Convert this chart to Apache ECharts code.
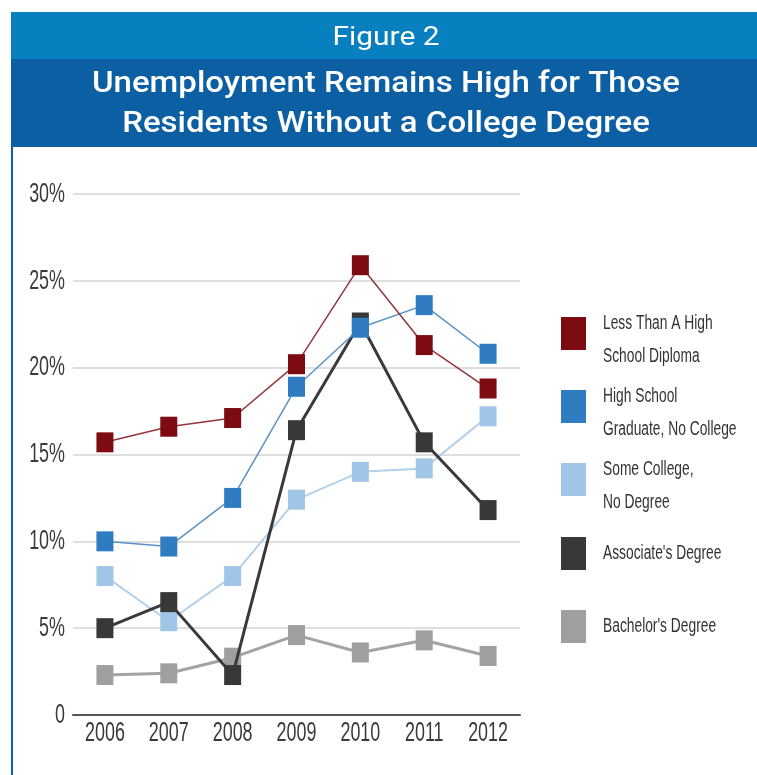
<!DOCTYPE html>
<html>
<head>
<meta charset="utf-8">
<style>
  html, body { margin: 0; padding: 0; background: #ffffff; }
  #chart { width: 757px; height: 775px; }
</style>
<script src="https://cdn.jsdelivr.net/npm/echarts@6/dist/echarts.min.js"></script>
</head>
<body>
<div id="chart"></div>
<script>
// Unemployment rate by educational attainment, 2006-2012 (percent)
const years = ['2006', '2007', '2008', '2009', '2010', '2011', '2012'];
const lessThanHighSchool = [15.7, 16.6, 17.1, 20.2, 25.9, 21.3, 18.8];
const highSchoolGraduate = [10.0, 9.7, 12.5, 18.9, 22.3, 23.6, 20.8];
const someCollege = [8.0, 5.4, 8.0, 12.4, 14.0, 14.2, 17.2];
const associatesDegree = [5.0, 6.5, 2.3, 16.4, 22.6, 15.7, 11.8];
const bachelorsDegree = [2.3, 2.4, 3.3, 4.6, 3.6, 4.3, 3.4];
const yTicks = [0, 5, 10, 15, 20, 25, 30];

const seriesNames = [
  'Less Than A High School Diploma',
  'High School Graduate, No College',
  'Some College, No Degree',
  "Associate's Degree",
  "Bachelor's Degree"
];
// how each legend entry wraps
const legendLines = [
  ['Less Than A High', 'School Diploma'],
  ['High School', 'Graduate, No College'],
  ['Some College,', 'No Degree'],
  ["Associate's Degree"],
  ["Bachelor's Degree"]
];
const markerColors = ['#7d0c12', '#2f7cc0', '#a0c5e6', '#383838', '#9f9f9f'];

const sans = "'Liberation Sans', Arial, sans-serif";
const titleFont = "Roboto, 'Open Sans', sans-serif";
const textColor = '#3a3a3a';

const chart = echarts.init(document.getElementById('chart'), null, { renderer: 'canvas' });

function lineSeries(idx, data, lineColor, lineWidth, z) {
  return {
    name: seriesNames[idx],
    type: 'line',
    data: data,
    z: z,
    symbol: 'rect',
    symbolSize: [17, 20],
    showAllSymbol: true,
    lineStyle: { color: lineColor, width: lineWidth },
    itemStyle: { color: markerColors[idx], borderWidth: 0 },
    emphasis: { disabled: true },
    animation: false
  };
}

// condensed-looking text: a regular face squeezed horizontally
function squeezedText(text, x, y, size, scaleX, align, color, weight) {
  return {
    type: 'text',
    x: x,
    y: y,
    scaleX: scaleX,
    silent: true,
    style: {
      text: text,
      fill: color,
      font: (weight || 'normal') + ' ' + size + 'px ' + sans,
      textAlign: align,
      textVerticalAlign: 'middle'
    }
  };
}

const headerGraphics = [
  { type: 'rect', shape: { x: 11, y: 12, width: 746, height: 47 }, style: { fill: '#0880c0' }, silent: true },
  { type: 'rect', shape: { x: 11, y: 59, width: 746, height: 88 }, style: { fill: '#0d5fa4' }, silent: true },
  { type: 'rect', shape: { x: 11, y: 147, width: 2, height: 628 }, style: { fill: '#0d5fa4' }, silent: true },
  {
    type: 'text', x: 386, y: 38, scaleX: 1.15, silent: true,
    style: { text: 'Figure 2', fill: '#ffffff', font: '400 26px ' + titleFont, textAlign: 'center', textVerticalAlign: 'middle' }
  },
  {
    type: 'text', x: 386, y: 84, scaleX: 1.1, silent: true,
    style: { text: 'Unemployment Remains High for Those', fill: '#ffffff', font: '500 30px ' + titleFont, textAlign: 'center', textVerticalAlign: 'middle' }
  },
  {
    type: 'text', x: 386, y: 124, scaleX: 1.1, silent: true,
    style: { text: 'Residents Without a College Degree', fill: '#ffffff', font: '500 30px ' + titleFont, textAlign: 'center', textVerticalAlign: 'middle' }
  }
];

// legend: swatch plus wrapped label for each series
const legendTops = [317, 390, 463, 537, 610];
const legendGraphics = [];
legendLines.forEach((lines, i) => {
  legendGraphics.push({
    type: 'rect', silent: true,
    shape: { x: 561, y: legendTops[i], width: 25, height: 33 },
    style: { fill: markerColors[i] }
  });
  const firstY = lines.length === 2 ? legendTops[i] + 6 : legendTops[i] + 16;
  lines.forEach((ln, j) => {
    legendGraphics.push(squeezedText(ln, 603, firstY + j * 33, 20, 0.69, 'left', '#333333'));
  });
});

const option = {
  backgroundColor: '#ffffff',
  animation: false,
  grid: { left: 73, right: 237, top: 194, bottom: 60 },
  xAxis: {
    type: 'category',
    data: years,
    boundaryGap: true,
    axisLine: { show: true, lineStyle: { color: '#555555', width: 2 } },
    axisTick: { show: false },
    axisLabel: { show: false }
  },
  yAxis: {
    type: 'value',
    min: yTicks[0],
    max: yTicks[yTicks.length - 1],
    interval: 5,
    axisLine: { show: false },
    axisTick: { show: false },
    splitLine: { lineStyle: { color: '#dedede', width: 2 } },
    axisLabel: { show: false }
  },
  series: [
    lineSeries(4, bachelorsDegree, '#a3a3a3', 3, 2),
    lineSeries(2, someCollege, '#b3d0ea', 2, 3),
    lineSeries(3, associatesDegree, '#3a3a3a', 3, 4),
    lineSeries(1, highSchoolGraduate, '#5a92c6', 1.5, 5),
    lineSeries(0, lessThanHighSchool, '#93363d', 1.5, 6)
  ],
  graphic: headerGraphics.concat(legendGraphics)
};

chart.setOption(option);

// tick labels placed through the axes' own scales
const tickGraphics = [];
years.forEach(y => {
  const px = chart.convertToPixel({ xAxisIndex: 0 }, y);
  const axisY = chart.convertToPixel({ yAxisIndex: 0 }, 0);
  tickGraphics.push(squeezedText(y, px, axisY + 18, 28, 0.64, 'center', textColor));
});
yTicks.forEach(v => {
  const py = chart.convertToPixel({ yAxisIndex: 0 }, v);
  const label = v === 0 ? '0' : v + '%';
  tickGraphics.push(squeezedText(label, 65, py, 28, 0.64, 'right', textColor));
});

chart.setOption({ graphic: headerGraphics.concat(legendGraphics, tickGraphics) });
</script>
</body>
</html>
